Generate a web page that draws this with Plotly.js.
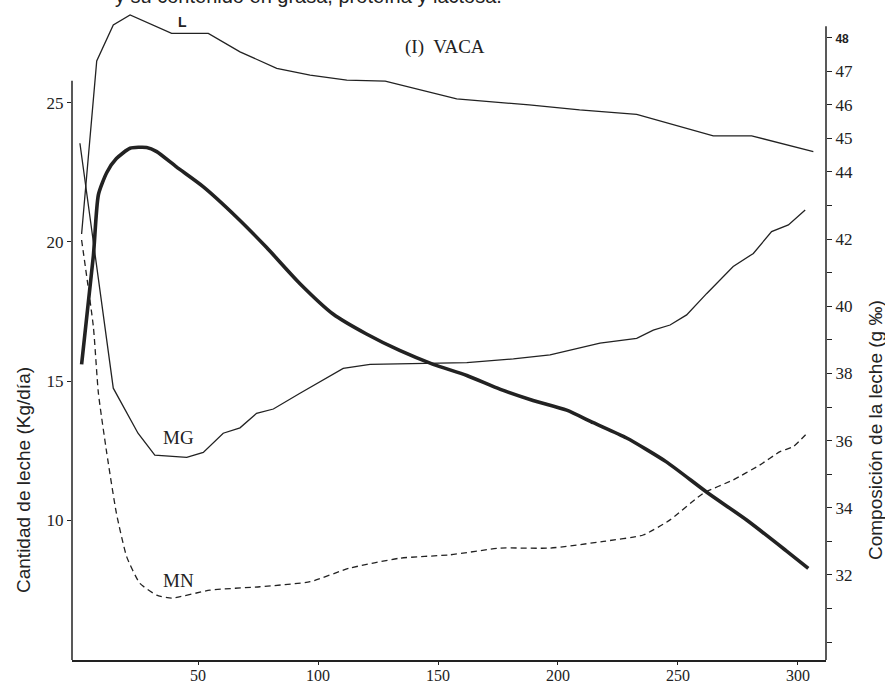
<!DOCTYPE html>
<html>
<head>
<meta charset="utf-8">
<script src="https://cdn.plot.ly/plotly-3.0.1.min.js"></script>
<style>html,body{margin:0;padding:0;background:#fff;}#chart{width:885px;height:686px;}</style>
</head>
<body>
<div id="chart"></div>
<script>
// Milk quantity (Kg/día), left axis
var daysQty = [1.5, 6.4, 8.5, 12, 16, 21.7, 28.6, 32.8, 41, 52, 66, 78.6, 92.5, 106.4, 120, 134, 148, 162, 176, 189.6, 203.6, 214.7, 228.6, 245, 262, 278.6, 295, 304.3];
var qtyKg   = [15.6, 19.5, 21.7, 22.5, 23.0, 23.37, 23.4, 23.25, 22.7, 22.0, 20.9, 19.8, 18.5, 17.4, 16.7, 16.1, 15.6, 15.2, 14.7, 14.3, 13.95, 13.5, 12.95, 12.1, 11.0, 10.0, 8.9, 8.26];

// Lactose L (g ‰), right axis
var daysL = [1.5, 7.8, 14.7, 21.7, 39, 54.3, 67.5, 82.8, 96.7, 112, 128, 157.8, 188, 209, 232.8, 264.7, 280.7, 306.4];
var valL  = [42.15, 47.3, 48.37, 48.67, 48.12, 48.12, 47.57, 47.08, 46.88, 46.73, 46.7, 46.17, 45.99, 45.84, 45.71, 45.07, 45.07, 44.6];

// Fat MG (g ‰), right axis
var daysMG = [0.8, 14.7, 25, 32, 45.3, 52.2, 60.5, 67.5, 74.4, 81.4, 92.5, 110.5, 121.7, 148, 162, 181.4, 196.7, 217.5, 232.8, 239.7, 246.7, 253.6, 262, 273, 281.4, 289, 296, 303];
var valMG  = [44.85, 37.56, 36.22, 35.57, 35.5, 35.65, 36.22, 36.38, 36.81, 36.94, 37.41, 38.15, 38.27, 38.3, 38.32, 38.43, 38.55, 38.9, 39.04, 39.29, 39.44, 39.74, 40.38, 41.18, 41.57, 42.22, 42.42, 42.86];

// Nitrogenous matter MN (g ‰), right axis
var daysMN = [1.5, 6.4, 8.5, 12, 16, 20.3, 25.8, 32.8, 39, 55, 75.8, 96.7, 113, 134, 155, 176, 196.7, 219, 235.5, 246.7, 260.5, 273, 284, 292.5, 298, 304.3];
var valMN  = [41.97, 39.39, 37.41, 35.62, 33.84, 32.54, 31.75, 31.4, 31.31, 31.55, 31.65, 31.8, 32.2, 32.5, 32.6, 32.8, 32.8, 33.0, 33.19, 33.64, 34.43, 34.83, 35.27, 35.67, 35.82, 36.26];

// Tick labels
var xTicks = [50, 100, 150, 200, 250, 300];
var leftTicks = [10, 15, 20, 25];
var rightTickVals = [30, 31, 32, 33, 34, 35, 36, 37, 38, 39, 40, 41, 42, 43, 44, 45, 46, 47, 48];
var rightTickText = ['', '', '32', '', '34', '', '36', '', '38', '', '40', '', '42', '', '44', '45', '46', '47',
  '<span style="font-family:Liberation Sans;font-weight:bold;font-size:12px">48</span>'];

var ink = '#222222';
var serif = 'Liberation Serif, Times New Roman, serif';
var sans = 'Liberation Sans, Arial, sans-serif';

var traces = [
  {x: daysQty, y: qtyKg, type: 'scatter', mode: 'lines', yaxis: 'y',
   line: {color: ink, width: 3.6, shape: 'spline', smoothing: 0.6}, hoverinfo: 'skip'},
  {x: daysL, y: valL, type: 'scatter', mode: 'lines', yaxis: 'y2',
   line: {color: ink, width: 1.3}, hoverinfo: 'skip'},
  {x: daysMG, y: valMG, type: 'scatter', mode: 'lines', yaxis: 'y2',
   line: {color: ink, width: 1.3}, hoverinfo: 'skip'},
  {x: daysMN, y: valMN, type: 'scatter', mode: 'lines', yaxis: 'y2',
   line: {color: ink, width: 1.3, dash: '6px,4px', shape: 'spline', smoothing: 0.5}, hoverinfo: 'skip'}
];

var PT = 8, PB = 660, PH = PB - PT;

var layout = {
  width: 885, height: 686,
  margin: {l: 72, r: 59, t: PT, b: 686 - PB},
  paper_bgcolor: '#ffffff', plot_bgcolor: '#ffffff',
  showlegend: false,
  font: {family: serif, color: ink, size: 17},
  xaxis: {
    range: [-2.5, 311.67], tickvals: xTicks, ticktext: xTicks.map(String),
    showgrid: false, zeroline: false, showline: true, linecolor: ink, linewidth: 1.5,
    ticks: 'outside', ticklen: 3, tickcolor: ink, ticklabelstandoff: -3,
    tickfont: {family: serif, size: 16, color: ink}
  },
  yaxis: {
    range: [4.964, 28.417], tickvals: leftTicks, ticktext: leftTicks.map(String),
    showgrid: false, zeroline: false, showline: false,
    ticks: 'outside', ticklen: 4, tickcolor: ink, tickfont: {family: serif, size: 17, color: ink}
  },
  yaxis2: {
    overlaying: 'y', side: 'right', anchor: 'x',
    range: [29.47, 48.875], tickvals: rightTickVals, ticktext: rightTickText,
    showgrid: false, zeroline: false, showline: false,
    ticks: 'outside', ticklen: 5, tickcolor: ink, tickfont: {family: serif, size: 17, color: ink}
  },
  shapes: [
    {type: 'line', xref: 'paper', yref: 'y', x0: 0, x1: 0, y0: 4.964, y1: 25.8,
     line: {color: ink, width: 1.5}},
    {type: 'line', xref: 'paper', yref: 'y2', x0: 1, x1: 1, y0: 29.47, y1: 48.33,
     line: {color: ink, width: 1.5}}
  ],
  annotations: [
    {text: '<b>L</b>', xref: 'x', yref: 'y2', x: 43.5, y: 48.46, showarrow: false,
     font: {family: sans, size: 14, color: ink}, xanchor: 'center', yanchor: 'middle'},
    {text: '(I)  VACA', xref: 'x', yref: 'y2', x: 152.9, y: 47.71, showarrow: false,
     font: {family: serif, size: 19, color: ink}, xanchor: 'center', yanchor: 'middle'},
    {text: 'MG', xref: 'x', yref: 'y2', x: 41.7, y: 36.08, showarrow: false,
     font: {family: serif, size: 19, color: ink}, xanchor: 'center', yanchor: 'middle'},
    {text: 'MN', xref: 'x', yref: 'y2', x: 41.7, y: 31.85, showarrow: false,
     font: {family: serif, size: 19, color: ink}, xanchor: 'center', yanchor: 'middle'},
    {text: 'Cantidad de leche (Kg/día)', xref: 'paper', yref: 'paper',
     x: (23 - 72) / 754, y: (PB - 480) / PH, textangle: -90, showarrow: false,
     font: {family: sans, size: 19, color: ink}, xanchor: 'center', yanchor: 'middle'},
    {text: 'Composición de la leche (g ‰)', xref: 'paper', yref: 'paper',
     x: (875 - 72) / 754, y: (PB - 430) / PH, textangle: -90, showarrow: false,
     font: {family: sans, size: 19, color: ink}, xanchor: 'center', yanchor: 'middle'},
    {text: 'y su contenido en grasa, proteína y lactosa.', xref: 'paper', yref: 'paper',
     x: (113 - 72) / 754, y: (PB + 4) / PH, showarrow: false,
     font: {family: sans, size: 20, color: ink}, xanchor: 'left', yanchor: 'middle'}
  ]
};

Plotly.newPlot('chart', traces, layout, {staticPlot: true, displayModeBar: false});
</script>
</body>
</html>
